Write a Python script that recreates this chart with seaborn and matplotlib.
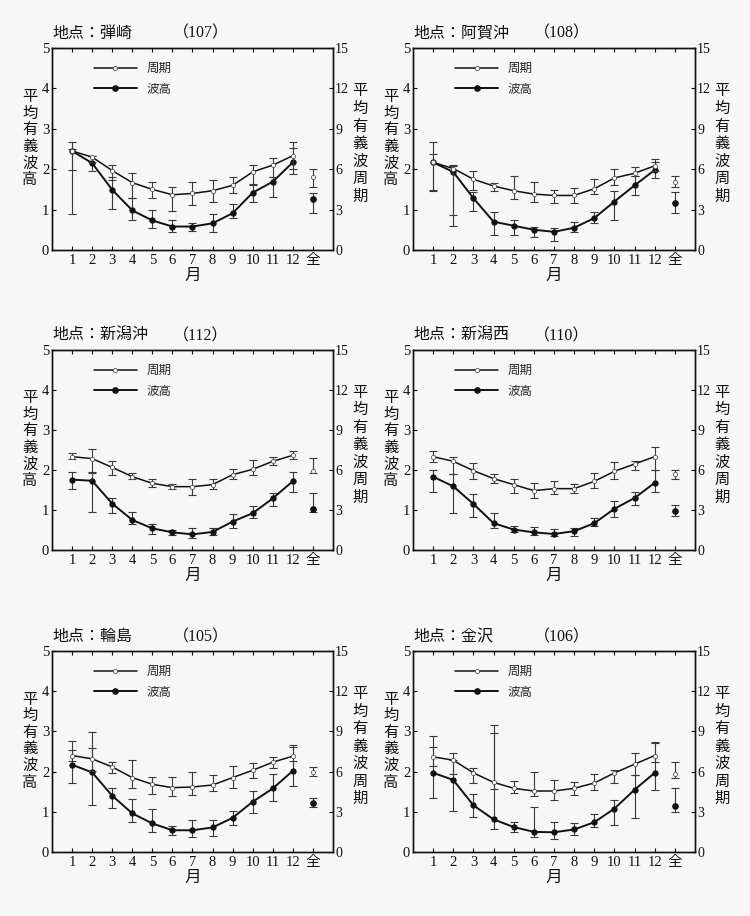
import numpy as np
import pandas as pd
import matplotlib
matplotlib.use("Agg")
import matplotlib.pyplot as plt
import seaborn as sns
from matplotlib.lines import Line2D

# ---------------- data ----------------
stations = ["弾崎", "阿賀沖", "新潟沖", "新潟西", "輪島", "金沢"]
codes = ["107", "108", "112", "110", "105", "106"]
month_labels = ["1", "2", "3", "4", "5", "6", "7", "8", "9", "10", "11", "12", "全"]

# mean significant wave period [s] (months 1-12, then 全)
period_mean = [
    [7.35, 6.9, 5.9, 5.0, 4.5, 4.1, 4.2, 4.4, 4.8, 5.8, 6.3, 7.0, 5.4],
    [6.5, 6.05, 5.25, 4.75, 4.4, 4.15, 4.05, 4.05, 4.55, 5.35, 5.7, 6.25, 5.05],
    [7.0, 6.85, 6.2, 5.5, 5.0, 4.75, 4.75, 4.9, 5.65, 6.05, 6.65, 7.1, 5.95],
    [7.0, 6.65, 5.95, 5.35, 4.9, 4.45, 4.6, 4.6, 5.15, 5.9, 6.45, 7.0, 5.7],
    [7.2, 6.95, 6.35, 5.55, 5.05, 4.8, 4.85, 5.0, 5.55, 6.1, 6.7, 7.15, 5.95],
    [7.1, 6.85, 5.9, 5.2, 4.75, 4.55, 4.55, 4.75, 5.15, 5.9, 6.55, 7.2, 5.8],
]
period_lo = [
    [5.95, 6.5, 5.2, 3.85, 3.85, 2.9, 3.35, 3.55, 4.2, 4.9, 5.45, 6.05, 4.7],
    [4.45, 2.6, 4.45, 4.4, 3.8, 3.6, 3.5, 3.5, 4.15, 4.85, 5.5, 5.85, 4.7],
    [6.8, 5.8, 5.65, 5.35, 4.75, 4.55, 4.15, 4.55, 5.3, 5.6, 6.4, 6.8, 5.8],
    [6.6, 5.7, 5.35, 5.05, 4.3, 3.9, 4.2, 4.3, 4.65, 5.3, 6.0, 6.0, 5.3],
    [6.8, 6.05, 5.9, 4.75, 4.3, 4.2, 4.25, 4.55, 4.75, 5.5, 6.25, 6.8, 5.65],
    [6.4, 5.8, 5.15, 4.7, 4.4, 4.15, 3.85, 4.25, 4.6, 5.15, 5.75, 6.7, 5.5],
]
period_hi = [
    [8.05, 7.0, 6.3, 5.75, 5.05, 4.7, 5.05, 5.2, 5.45, 6.3, 6.8, 8.0, 6.05],
    [8.05, 6.3, 5.9, 4.95, 5.5, 5.05, 4.45, 4.6, 5.25, 6.05, 6.15, 6.75, 5.5],
    [7.25, 7.6, 6.65, 5.8, 5.3, 4.95, 5.3, 5.3, 6.1, 6.75, 6.95, 7.45, 6.9],
    [7.45, 6.95, 6.5, 5.7, 5.3, 5.0, 5.2, 4.95, 5.8, 6.6, 6.65, 7.7, 6.0],
    [8.3, 7.75, 6.75, 6.9, 5.6, 5.6, 6.0, 5.75, 6.4, 6.65, 7.1, 7.8, 6.35],
    [7.8, 7.35, 6.3, 9.5, 5.3, 5.95, 5.35, 5.2, 5.85, 6.1, 7.4, 8.2, 6.7],
]
# mean significant wave height [m]
height_mean = [
    [2.45, 2.15, 1.49, 0.98, 0.73, 0.58, 0.58, 0.66, 0.91, 1.42, 1.69, 2.17, 1.27],
    [2.17, 1.93, 1.28, 0.70, 0.60, 0.50, 0.45, 0.55, 0.79, 1.20, 1.60, 1.98, 1.16],
    [1.76, 1.73, 1.16, 0.75, 0.54, 0.44, 0.39, 0.45, 0.71, 0.92, 1.29, 1.72, 1.02],
    [1.83, 1.59, 1.15, 0.67, 0.51, 0.44, 0.40, 0.47, 0.67, 1.03, 1.30, 1.68, 0.98],
    [2.17, 1.98, 1.40, 0.96, 0.71, 0.54, 0.54, 0.61, 0.85, 1.25, 1.58, 2.02, 1.21],
    [1.97, 1.79, 1.16, 0.81, 0.62, 0.50, 0.49, 0.56, 0.74, 1.08, 1.55, 1.97, 1.14],
]
height_lo = [
    [0.88, 1.95, 1.02, 0.75, 0.54, 0.44, 0.48, 0.44, 0.79, 1.18, 1.30, 1.88, 0.91],
    [1.45, 0.60, 0.97, 0.37, 0.37, 0.31, 0.22, 0.44, 0.66, 0.73, 1.36, 1.78, 0.91],
    [1.52, 0.95, 0.92, 0.64, 0.41, 0.37, 0.31, 0.37, 0.56, 0.81, 1.11, 1.46, 0.94],
    [1.44, 0.93, 0.82, 0.54, 0.44, 0.38, 0.36, 0.36, 0.61, 0.82, 1.13, 1.44, 0.84],
    [1.71, 1.17, 1.10, 0.75, 0.50, 0.42, 0.37, 0.40, 0.68, 0.96, 1.27, 1.65, 1.11],
    [1.35, 1.03, 0.86, 0.58, 0.50, 0.37, 0.32, 0.43, 0.62, 0.68, 0.85, 1.55, 0.99],
]
height_hi = [
    [2.50, 2.32, 1.80, 1.28, 0.99, 0.73, 0.68, 0.88, 1.14, 1.60, 1.80, 2.52, 1.42],
    [2.37, 2.07, 1.44, 0.95, 0.73, 0.58, 0.54, 0.70, 0.93, 1.45, 1.82, 2.19, 1.43],
    [1.96, 1.94, 1.29, 0.94, 0.64, 0.50, 0.54, 0.54, 0.90, 1.11, 1.42, 1.94, 1.42],
    [2.00, 1.90, 1.40, 0.92, 0.61, 0.57, 0.53, 0.55, 0.80, 1.23, 1.44, 2.00, 1.13],
    [2.53, 2.98, 1.60, 1.32, 1.08, 0.65, 0.79, 0.79, 1.03, 1.52, 1.93, 2.67, 1.35],
    [2.88, 2.30, 1.45, 2.95, 0.75, 1.12, 0.75, 0.71, 0.95, 1.29, 1.92, 2.70, 1.58],
]

# ---------------- style ----------------
sns.set_theme(style="ticks")
BG = "#f7f7f7"
SERIF = ["Liberation Serif", "Noto Sans CJK JP"]
CJK = ["Noto Sans CJK JP", "DejaVu Sans"]
plt.rcParams["font.family"] = SERIF
plt.rcParams["axes.linewidth"] = 1.0

fig = plt.figure(figsize=(7.5, 9.16), dpi=100, facecolor=BG)
lefts = [0.0693, 0.5507]
widths = [0.3747, 0.376]
bottoms = [0.7271, 0.3996, 0.0699]
heights = [0.2205, 0.2183, 0.2194]

xpos = np.arange(1, 14)
INK = "#111111"

for i in range(6):
    r, c = divmod(i, 2)
    ax = fig.add_axes([lefts[c], bottoms[r], widths[c], heights[r]])
    ax.set_facecolor(BG)
    ax2 = ax.twinx()

    pm = np.array(period_mean[i]); plo = np.array(period_lo[i]); phi = np.array(period_hi[i])
    hm = np.array(height_mean[i]); hlo = np.array(height_lo[i]); hhi = np.array(height_hi[i])

    df = pd.DataFrame({"month": xpos[:12], "period": pm[:12], "height": hm[:12]})

    # error bars
    ax2.errorbar(xpos, pm, yerr=[pm - plo, phi - pm], fmt="none", ecolor="#3a3a3a",
                 elinewidth=0.8, capsize=3, capthick=0.8, zorder=2)
    ax.errorbar(xpos, hm, yerr=[hm - hlo, hhi - hm], fmt="none", ecolor="#3a3a3a",
                elinewidth=0.8, capsize=3, capthick=0.8, zorder=2)

    # mean lines
    sns.lineplot(data=df, x="month", y="period", ax=ax2, color=INK, lw=1.1,
                 marker="o", markersize=3, markerfacecolor="white",
                 markeredgecolor="#555555", markeredgewidth=0.6, zorder=3)
    sns.lineplot(data=df, x="month", y="height", ax=ax, color=INK, lw=1.4,
                 marker="o", markersize=3.8, markerfacecolor=INK,
                 markeredgecolor=INK, zorder=3)
    # overall (全)
    ax2.plot(xpos[12:], pm[12:], ls="none", marker="o", markersize=3,
             markerfacecolor="white", markeredgecolor="#555555", markeredgewidth=0.6, zorder=3)
    ax.plot(xpos[12:], hm[12:], ls="none", marker="o", markersize=3.8,
            markerfacecolor=INK, markeredgecolor=INK, zorder=3)

    ax.set_xlim(0, 14)
    ax.set_ylim(0, 5)
    ax2.set_ylim(0, 15)
    ax.set_xticks(xpos)
    ax.set_xticklabels(month_labels)
    ax.set_yticks(range(6))
    ax2.set_yticks(range(0, 16, 3))
    ax.set_xlabel("")
    ax.set_ylabel("")
    ax2.set_ylabel("")
    ax.tick_params(axis="x", direction="in", top=True, length=3, width=0.8,
                   labelsize=10.5, pad=3, colors=INK)
    ax.tick_params(axis="y", direction="in", length=3, width=0.8, labelsize=10.5,
                   pad=2, colors=INK)
    ax2.tick_params(axis="y", direction="in", length=3, width=0.8, labelsize=10,
                    pad=1.5, colors=INK)
    for a in (ax, ax2):
        for s in a.spines.values():
            s.set_visible(True)
            s.set_color(INK)

    # texts
    ax.text(0.0, 1.03, "地点：" + stations[i], transform=ax.transAxes, ha="left",
            va="bottom", fontsize=11.5, family=CJK, color=INK)
    ax.text(0.43, 1.03, "（" + codes[i] + "）", transform=ax.transAxes, ha="left",
            va="bottom", fontsize=11.5, family=SERIF, color=INK)
    ax.text(-0.079, 0.554, "\n".join("平均有義波高"), transform=ax.transAxes,
            ha="center", va="center", fontsize=11, linespacing=0.97, family=CJK,
            color=INK)
    ax2.text(1.095, 0.527, "\n".join("平均有義波周期"), transform=ax.transAxes,
             ha="center", va="center", fontsize=11, linespacing=1.04, family=CJK,
             color=INK)
    ax.text(0.5, -0.125, "月", transform=ax.transAxes, ha="center", va="center",
            fontsize=12, family=CJK, color=INK)

    handles = [
        Line2D([], [], color=INK, lw=1.1, marker="o", markersize=3,
               markerfacecolor="white", markeredgecolor="#555555", markeredgewidth=0.6),
        Line2D([], [], color=INK, lw=1.4, marker="o", markersize=3.8,
               markerfacecolor=INK, markeredgecolor=INK),
    ]
    ax2.legend(handles, ["周期", "波高"], loc="upper left", bbox_to_anchor=(0.11, 0.985),
               frameon=False, handlelength=3.4, labelspacing=0.6, handletextpad=0.8,
               prop={"family": CJK, "size": 9})

fig.savefig("out.png", dpi=100, facecolor=BG)
